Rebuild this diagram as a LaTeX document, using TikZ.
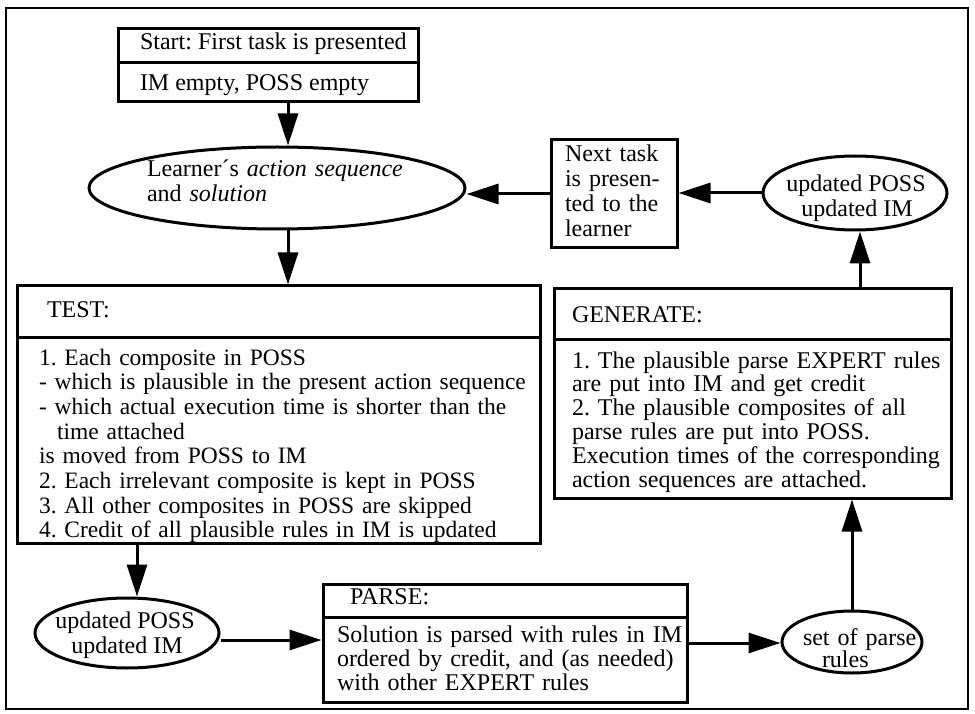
\documentclass[tikz,border=0pt]{standalone}
\usepackage{fontspec}
\setmainfont{Liberation Serif}
\usetikzlibrary{shapes.geometric,arrows.meta}

\tikzset{
  boxshape/.style={draw, line width=3pt, rectangle, inner sep=0pt},
  oval/.style={draw, line width=3pt, ellipse, inner sep=0pt},
  arr/.style={line width=3pt, -{Triangle[length=32pt,width=20pt]}},
  divider/.style={line width=3pt},
  txt/.style={anchor=base west, inner sep=0pt, outer sep=0pt,
    font=\fontsize{24}{24.7}\selectfont,
    execute at begin node={\frenchspacing}},
  para/.style={txt, text width=#1, align=left,
    execute at begin node={\frenchspacing\hyphenpenalty=10000\exhyphenpenalty=10000}},
}

\begin{document}
\begin{tikzpicture}[x=1pt, y=-1pt]
  % page and outer frame
  \fill[white] (0,0) rectangle (975,714);
  \useasboundingbox (0,0) rectangle (975,714);
  \draw[line width=2pt] (6,8) rectangle (968,709);

  % boxes and ovals
  \node[boxshape, minimum width=300pt, minimum height=73pt]  (start) at (268,65.5) {};
  \node[oval, minimum width=376pt, minimum height=82pt]      (learner) at (277,188) {};
  \node[boxshape, minimum width=126pt, minimum height=108pt] (next) at (614,194) {};
  \node[oval, minimum width=184pt, minimum height=74pt]      (updtop) at (855,193) {};
  \node[boxshape, minimum width=523pt, minimum height=257pt] (test) at (278.5,414.5) {};
  \node[boxshape, minimum width=397pt, minimum height=209pt] (gen) at (752.5,393.5) {};
  \node[oval, minimum width=184pt, minimum height=70pt]      (updbot) at (127,633) {};
  \node[boxshape, minimum width=364pt, minimum height=118pt] (parse) at (505,643) {};
  \node[oval, minimum width=140pt, minimum height=62pt]      (rules) at (852,642) {};

  % header dividers
  \draw[divider] (start.west |- 0,63)  -- (start.east |- 0,63);
  \draw[divider] (test.west |- 0,337)  -- (test.east |- 0,337);
  \draw[divider] (gen.west |- 0,339)   -- (gen.east |- 0,339);
  \draw[divider] (parse.west |- 0,617) -- (parse.east |- 0,617);

  % texts
  \node[txt] (start-a) at (140,50) {Start: First task is presented};
  \node[txt] (start-b) at (140,91) {IM empty, POSS empty};

  \node[para=400pt, font=\fontsize{24}{25}\selectfont] (learner-t) at (147,177)
    {Learner´s \textit{action sequence}\\and \textit{solution}};

  \node[para=200pt, font=\fontsize{24}{25}\selectfont] (next-t) at (565,162)
    {Next task\\is presen-\\ted to the\\learner};

  \node[txt, anchor=base] (updtop-a) at (856,192) {updated POSS};
  \node[txt, anchor=base] (updtop-b) at (857,217) {updated IM};

  \node[txt] (test-h) at (47,317) {TEST:};
  \node[para=700pt, font=\fontsize{23.5}{24.7}\selectfont] (test-t) at (39,365)
    {1. Each composite in POSS\\
     - which is plausible in the present action sequence\\
     - which actual execution time is shorter than the\\
     \hspace*{18pt}time attached\\
     is moved from POSS to IM\\
     2. Each irrelevant composite is kept in POSS\\
     3. All other composites in POSS are skipped\\
     4. Credit of all plausible rules in IM is updated};

  \node[txt] (gen-h) at (572,322) {GENERATE:};
  \node[para=600pt, font=\fontsize{24}{23.8}\selectfont] (gen-t) at (572,368)
    {1. The plausible parse EXPERT rules\\
     are put into IM and get credit\\
     2. The plausible composites of all\\
     parse rules are put into POSS.\\
     Execution times of the corresponding\\
     action sequences are attached.};

  \node[txt, anchor=base] (updbot-a) at (125,628) {updated POSS};
  \node[txt, anchor=base] (updbot-b) at (127,653) {updated IM};

  \node[txt] (parse-h) at (350,604) {PARSE:};
  \node[para=500pt, font=\fontsize{24}{24}\selectfont] (parse-t) at (337,642)
    {Solution is parsed with rules in IM\\
     ordered by credit, and (as needed)\\
     with other EXPERT rules};

  \node[para=200pt, font=\fontsize{24}{22}\selectfont] (rules-t) at (803,645)
    {set of parse\\\hspace*{19pt}rules};

  % connectors
  \draw[arr] ([xshift=20pt]start.south) -- ([xshift=20pt]start.south |- learner.north);
  \draw[arr] ([xshift=11pt]learner.south) -- ([xshift=11pt]learner.south |- test.north);
  \draw[arr] (next.west) -- (next.west -| learner.east);
  \draw[arr] (updtop.west) -- (updtop.west -| next.east);
  \draw[arr] ([xshift=107.5pt]gen.north) -- ([xshift=107.5pt]gen.north |- updtop.south);
  \draw[arr] ([xshift=-141.5pt]test.south) -- ([xshift=-141.5pt]test.south |- updbot.north);
  \draw[arr] ([yshift=-7pt]updbot.east) -- ([yshift=-7pt]updbot.east -| parse.west);
  \draw[arr] (parse.east) -- (parse.east -| rules.west);
  \draw[arr] (rules.north) -- (rules.north |- gen.south);
\end{tikzpicture}
\end{document}
